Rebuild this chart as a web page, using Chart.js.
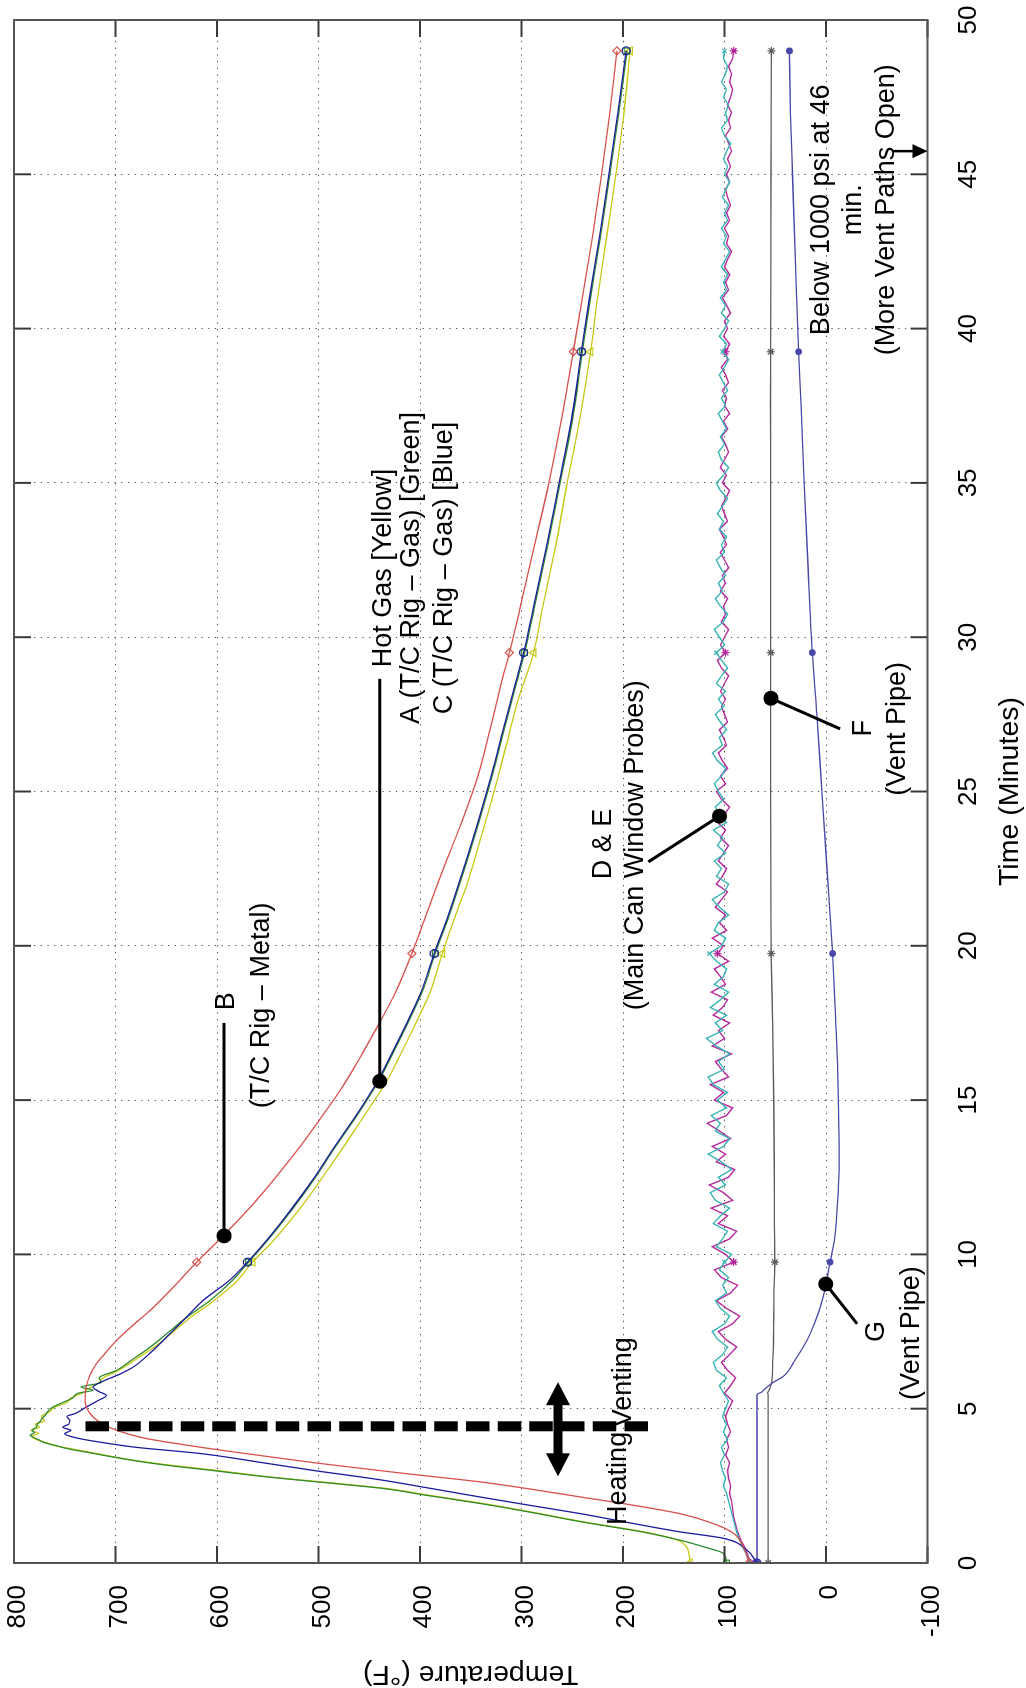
<!DOCTYPE html>
<html><head><meta charset="utf-8">
<script src="https://cdn.jsdelivr.net/npm/chart.js@4.4.1/dist/chart.umd.min.js"></script>
<style>
html,body{margin:0;padding:0;background:#fff;overflow:hidden;width:1026px;height:1688px;}
#wrap{position:absolute;left:0;top:0;width:1688px;height:1026px;transform-origin:0 0;transform:translateY(1688px) rotate(-90deg);background:#fff;}
canvas{display:block;}
</style></head><body>
<div id="wrap"><canvas id="c" width="1688" height="1026"></canvas></div>
<script>
// ---------------- DATA ----------------
const timeTicks = [0,5,10,15,20,25,30,35,40,45,50];
const tempTicks = [800,700,600,500,400,300,200,100,0,-100];

// B (T/C Rig - Metal) [red]
const tB = [0,0.5,0.96,1.28,1.6,1.9,2.14,2.4,2.63,2.9,3.24,3.6,3.87,4.05,4.3,4.55,4.84,5.27,5.7,6.1,6.45,6.8,7.21,7.7,8.18,8.7,9.15,9.75,10.5,11.5,12.5,13.5,14.5,15.5,16.5,17.5,18.5,19.75,21,22.5,24,25.5,27,28.5,29.5,31,33,35,37,39.25,41,43,45,47,49];
const vB = [76,81,91,111,144,195,242,292,341,415,502,584,640,672,699,715,725,730,729,725,719,710,699,683,666,650,637,620,597,568,542,518,496,475,457,440,424,408,394,377,359,343,331,320,312,301,287,273,261,249,240,230,221,213,206];

// A (T/C Rig - Gas) [green]
const tA = [0,0.31,0.5,0.74,1.0,1.34,1.65,1.93,2.2,2.41,2.58,2.79,3.0,3.17,3.3,3.45,3.6,3.71,3.8,3.9,4.0,4.07,4.14,4.22,4.3,4.4,4.5,4.6,4.7,4.8,4.9,5.05,5.2,5.35,5.5,5.6,5.7,5.85,6.0,6.24,6.6,6.99,7.5,7.96,8.5,9.15,9.75,10.5,11.5,12.5,13.5,14.5,15.6,16.5,17.5,18.5,19.75,21,22.3,24,25.5,27,28.5,29.5,31,33,35,37,39.25,41,43,45,47,49];
const vA = [98,101,118,144,180,242,292,341,395,435,486,551,605,650,678,705,730,748,758,770,776,781,784,780,782,778,777,774,772,769,767,762,752,742,737,722,734,714,716,699,683,666,647,630,607,585,569,549,525,503,483,462,441,427,412,398,385,371,358,342,329,317,305,297,287,274,262,250,240,232,222,213,204,196];

// Hot Gas [yellow]
const tY = [0,0.3,0.55,0.74,1.0,1.34,1.65,1.93,2.2,2.41,2.58,2.79,3.0,3.17,3.3,3.45,3.6,3.71,3.8,3.9,4.0,4.1,4.2,4.3,4.4,4.5,4.6,4.75,4.9,5.05,5.2,5.35,5.5,5.65,5.8,6.0,6.24,6.6,6.99,7.5,7.96,8.5,9.15,9.75,10.5,11.5,12.5,13.5,14.5,15.6,16.5,17.5,18.5,19.75,21,22.06,23.5,25,26.5,28,29.5,31,33,35,37,39.25,41,43,45,47,49];
const vY = [134,135,138,146,178,240,290,338,392,432,482,548,600,646,676,703,727,745,760,768,778,782,776,783,775,779,770,773,765,760,748,744,733,727,718,712,697,680,662,643,626,603,580,565,543,518,496,475,455,433,419,404,390,378,365,353,340,327,315,303,288,279,266,255,243,232,225,216,207,199,193];

// C (T/C Rig - Gas) [blue]
const tC = [0,0.42,0.8,1.01,1.3,1.6,1.87,2.14,2.42,2.7,3.0,3.25,3.55,3.75,3.92,4.05,4.19,4.3,4.4,4.5,4.62,4.75,4.84,5.05,5.25,5.43,5.55,5.7,5.91,6.1,6.34,6.8,7.31,7.9,8.5,9.15,9.75,10.5,11.5,12.5,13.5,14.5,15.6,16.5,17.5,18.5,19.75,21,22.3,24,25.5,27,28.5,29.5,31,33,35,37,39.25,41,43,45,47,49];
const vC = [68,78,101,144,193,242,292,341,390,440,505,555,617,680,716,738,750,744,752,746,745,748,740,729,718,709,716,722,711,697,683,666,650,632,614,588,570,550,526,504,484,463,442,428,413,399,386,372,359,343,330,318,306,298,288,275,263,251,241,233,223,214,205,197];

// F (Vent Pipe) [grey]
const tF = [0,5.45,5.52,5.6,5.9,6.5,7.2,8.0,8.8,9.75,11,13,15,17.5,19.75,22,25,27.5,29.5,32,35,37.5,39.25,42,45,47,49];
const vF = [57,57,57.5,56,53.3,52.5,51.7,51.5,51.3,50.5,50.8,51,51.5,52.5,54,54.3,54.5,54.5,54.5,54.5,54.5,54.7,54.5,54.3,54.2,54,53.8];

// G (Vent Pipe) [dark blue]
const tG = [0,5.45,5.55,5.65,5.85,6.05,6.6,7.2,7.8,8.3,9.04,9.75,10.4,11.5,13,14.5,16,18,19.75,22.5,25,27.5,29.5,32.5,35,37.5,39.25,42,45,47,49];
const vG = [68,68,63,60,52,42,30,19,11,5.6,0,-4,-8,-11,-13,-12.5,-11.5,-9,-6.5,-1,4,9,13.5,18,21.5,24.5,27,30,33,35,36];

// D & E (Main Can Window Probes) sample times
const tP = [0,0.25,0.5,0.75,1,1.25,1.5,1.75,2,2.25,2.5,2.75,3,
3.25,3.5,3.75,4,4.25,4.5,4.75,5,
5.25,5.5,5.75,6,6.25,6.5,6.75,7,
7.25,7.5,7.75,8,8.25,8.5,8.75,9,
9.25,9.5,9.75,10,10.25,10.5,10.75,11,
11.25,11.5,11.75,12,12.25,12.5,12.75,13,
13.25,13.5,13.75,14,14.25,14.5,14.75,15,
15.25,15.5,15.75,16,16.25,16.5,16.75,17,
17.25,17.5,17.75,18,18.25,18.5,18.75,19,
19.25,19.5,19.75,20,20.25,20.5,20.75,21,
21.25,21.5,21.75,22,22.25,22.5,22.75,23,
23.25,23.5,23.75,24,24.25,24.5,24.75,25,
25.25,25.5,25.75,26,26.25,26.5,26.75,27,
27.25,27.5,27.75,28,28.25,28.5,28.75,29,
29.25,29.5,29.75,30,30.25,30.5,30.75,31,
31.25,31.5,31.75,32,32.25,32.5,32.75,33,
33.25,33.5,33.75,34,34.25,34.5,34.75,35,
35.25,35.5,35.75,36,36.25,36.5,36.75,37,
37.25,37.5,37.75,38,38.25,38.5,38.75,39,
39.25,39.5,39.75,40,40.25,40.5,40.75,41,
41.25,41.5,41.75,42,42.25,42.5,42.75,43,
43.25,43.5,43.75,44,44.25,44.5,44.75,45,
45.25,45.5,45.75,46,46.25,46.5,46.75,47,
47.25,47.5,47.75,48,48.25,48.5,48.75,49];

// E [magenta]
const vE = [74,77,80,84,87,89,91,92,93,95,94,96,97,
95,99,96,98,94,97,99,96,
92,100,94,89,97,103,95,88,
99,106,92,85,98,108,94,87,
103,110,91,99,112,95,88,106,
97,113,92,101,115,96,90,108,
99,112,94,105,117,98,92,110,
101,114,96,103,109,93,112,100,
106,95,111,102,97,113,99,104,
110,96,107,101,112,98,105,99,
109,103,97,108,102,98,106,101,
96,104,99,107,100,95,103,108,
99,104,97,102,106,98,101,105,
97,100,103,99,104,100,96,103,
107,99,104,100,96,103,99,101,
97,104,99,102,96,100,104,98,
101,105,97,100,103,99,95,102,
98,104,100,96,99,103,97,101,
95,100,98,102,96,99,103,97,
99,95,101,97,100,94,98,102,
96,99,95,100,97,93,98,96,
100,95,98,94,97,99,95,98,
94,97,93,96,99,94,96,93,
97,94,92,95,93,96,92,91];

// D [cyan]
const vD = [75,78,82,85,88,90,92,94,96,98,101,99,102,
104,100,103,97,101,98,102,99,
96,101,105,98,108,111,102,97,
107,112,100,95,104,109,98,102,
96,105,100,93,108,102,97,111,
104,95,109,114,99,106,93,103,
116,101,95,109,104,113,98,107,
97,111,116,100,106,95,108,118,
102,109,98,114,104,96,110,101,
98,108,115,103,99,110,106,96,
105,112,100,96,108,103,110,99,
107,102,111,98,105,109,101,106,
110,103,99,107,112,102,105,98,
104,109,101,106,99,108,103,97,
103,108,100,105,110,101,97,104,
109,102,106,99,104,108,100,103,
98,105,101,107,102,97,104,108,
101,96,103,106,100,104,98,102,
106,99,103,97,101,105,100,96,
102,98,105,100,96,103,99,104,
98,101,97,103,99,95,101,98,
103,97,100,96,102,99,95,100,
97,101,98,94,100,103,97,99,
96,101,98,103,99,97,101,100];

const markerTimes = [0,9.75,19.75,29.5,39.25,49];

// ---------------- CHART ----------------
const FONT = "'Liberation Sans', Arial, Helvetica, sans-serif";
const pts = (xs, ys) => xs.map((t, i) => ({x: t, y: ys[i]}));
const mk = r => c => (c.raw && markerTimes.includes(c.raw.x)) ? r : 0;
function ds(xs, ys, color, style, r, filled, smooth, bw) {
  return {
    data: pts(xs, ys), borderColor: color, backgroundColor: color,
    borderWidth: bw || 1.3, fill: false,
    cubicInterpolationMode: smooth ? 'monotone' : 'default', tension: 0,
    pointStyle: style, pointRadius: mk(r), pointHoverRadius: 0,
    pointBorderColor: color, pointBorderWidth: 1.2,
    pointBackgroundColor: filled ? color : 'rgba(0,0,0,0)'
  };
}

const frameTicks = {
  id: 'frameTicks',
  afterDatasetsDraw(chart) {
    const {ctx, chartArea: a, scales: {x, y}} = chart;
    ctx.save();
    ctx.strokeStyle = '#3a3a3a'; ctx.lineWidth = 2; ctx.setLineDash([]);
    const L = 17;
    timeTicks.forEach(v => {
      const px = x.getPixelForValue(v);
      ctx.beginPath(); ctx.moveTo(px, a.bottom); ctx.lineTo(px, a.bottom - L); ctx.stroke();
      ctx.beginPath(); ctx.moveTo(px, a.top); ctx.lineTo(px, a.top + L); ctx.stroke();
    });
    tempTicks.forEach(v => {
      const py = y.getPixelForValue(v);
      ctx.beginPath(); ctx.moveTo(a.left, py); ctx.lineTo(a.left + L, py); ctx.stroke();
      ctx.beginPath(); ctx.moveTo(a.right, py); ctx.lineTo(a.right - L, py); ctx.stroke();
    });
    ctx.strokeStyle = '#555'; ctx.lineWidth = 2;
    ctx.strokeRect(a.left, a.top, a.right - a.left, a.bottom - a.top);
    ctx.restore();
  }
};

const notes = {
  id: 'notes',
  afterDraw(chart) {
    const {ctx, scales: {x, y}} = chart;
    const X = v => x.getPixelForValue(v), Y = v => y.getPixelForValue(v);
    ctx.save();
    ctx.strokeStyle = '#000'; ctx.fillStyle = '#000';
    ctx.lineWidth = 3; ctx.setLineDash([]);
    const seg = (t1, v1, t2, v2) => { ctx.beginPath(); ctx.moveTo(X(t1), Y(v1)); ctx.lineTo(X(t2), Y(v2)); ctx.stroke(); };
    seg(10.6, 593, 17.5, 593);
    seg(15.61, 439.6, 28.65, 439.6);
    seg(24.2, 105, 22.72, 175);
    seg(28.02, 54.3, 27.03, -14);
    seg(9.04, 0.2, 7.75, -30.6);
    [[10.6, 593], [15.61, 439.6], [24.2, 105], [28.02, 54.3], [9.04, 0.2]].forEach(([t, v]) => {
      ctx.beginPath(); ctx.arc(X(t), Y(v), 7.5, 0, Math.PI * 2); ctx.fill();
    });
    // heating / venting dashed divider
    ctx.lineWidth = 10; ctx.setLineDash([23.5, 8.2]);
    ctx.beginPath(); ctx.moveTo(X(4.43), Y(729.5)); ctx.lineTo(X(4.43), Y(171)); ctx.stroke();
    ctx.setLineDash([]);
    // double arrow
    const ay = Y(264), ax1 = X(2.81), ax2 = X(5.86), hl = 23, hw = 12;
    ctx.lineWidth = 9;
    ctx.beginPath(); ctx.moveTo(ax1 + hl - 2, ay); ctx.lineTo(ax2 - hl + 2, ay); ctx.stroke();
    ctx.beginPath(); ctx.moveTo(ax1, ay); ctx.lineTo(ax1 + hl, ay - hw); ctx.lineTo(ax1 + hl, ay + hw); ctx.closePath(); ctx.fill();
    ctx.beginPath(); ctx.moveTo(ax2, ay); ctx.lineTo(ax2 - hl, ay - hw); ctx.lineTo(ax2 - hl, ay + hw); ctx.closePath(); ctx.fill();
    // 46 min arrow
    const px = X(45.75), tipY = Y(-100);
    ctx.lineWidth = 2.5;
    ctx.beginPath(); ctx.moveTo(px, Y(-66)); ctx.lineTo(px, tipY - 13); ctx.stroke();
    ctx.beginPath(); ctx.moveTo(px, tipY); ctx.lineTo(px - 7, tipY - 15); ctx.lineTo(px + 7, tipY - 15); ctx.closePath(); ctx.fill();
    // texts
    ctx.font = '27px ' + FONT; ctx.textBaseline = 'middle';
    const txt = (s, t, v, al) => { ctx.textAlign = al || 'center'; ctx.fillText(s, X(t), Y(v)); };
    txt('B', 18.2, 591);
    txt('(T/C Rig \u2013 Metal)', 18.07, 556);
    txt('Hot Gas [Yellow]', 32.24, 436);
    txt('A (T/C Rig \u2013 Gas) [Green]', 32.24, 408);
    txt('C (T/C Rig \u2013 Gas) [Blue]', 32.24, 376);
    txt('D & E', 23.3, 219);
    txt('(Main Can Window Probes)', 23.26, 188);
    txt('F', 27.05, -37);
    txt('(Vent Pipe)', 27.03, -70);
    txt('G', 7.5, -50);
    txt('(Vent Pipe)', 7.45, -84.5);
    txt('Heating', 4.25, 204, 'right');
    txt('Venting', 4.4, 199, 'left');
    txt('Below 1000 psi at 46', 43.85, 4);
    txt('min.', 43.85, -27.5);
    txt('(More Vent Paths Open)', 43.85, -59.3);
    ctx.restore();
  }
};

new Chart(document.getElementById('c'), {
  type: 'line',
  data: {
    datasets: [
      ds(tB, vB, '#d8504c', 'rectRot', 4, false, true),
      ds(tC, vC, '#1c1c9c', 'circle', 4, false, true),
      ds(tA, vA, '#2e8b2e', 'rect', 4, false, true),
      ds(tY, vY, '#c8c814', 'triangle', 4.5, false, true),
      ds(tG, vG, '#4848a8', 'circle', 2.8, true, true),
      ds(tF, vF, '#5c5c5c', 'star', 4, false, true),
      ds(tP, vD, '#38b4b4', 'crossRot', 3, false, false, 1.4),
      ds(tP, vE, '#b4289c', 'star', 4, false, false, 1.4)
    ]
  },
  options: {
    responsive: false, animation: false, events: [],
    layout: {padding: {top: 14, right: 20, left: 0, bottom: 0}},
    plugins: {legend: {display: false}, tooltip: {enabled: false}},
    scales: {
      x: {
        type: 'linear', min: 0, max: 50,
        afterFit: s => { s.height = 98.5; s.paddingLeft = 0; s.paddingRight = 0; },
        afterBuildTicks: s => { s.ticks = timeTicks.map(v => ({value: v})); },
        grid: {color: '#444', lineWidth: 1, drawTicks: false},
        border: {display: false, dash: [1.2, 5.5]},
        ticks: {color: '#000', font: {family: FONT, size: 26}, padding: 26, maxRotation: 0, autoSkip: false},
        title: {display: true, text: 'Time (Minutes)', color: '#000', font: {family: FONT, size: 28.5, lineHeight: 1.0}, padding: {top: 0, bottom: 1.5}}
      },
      y: {
        type: 'linear', min: -100, max: 800,
        afterFit: s => { s.width = 125; s.paddingTop = 0; s.paddingBottom = 0; },
        afterBuildTicks: s => { s.ticks = tempTicks.map(v => ({value: v})); },
        grid: {color: '#444', lineWidth: 1, drawTicks: false},
        border: {display: false, dash: [1.2, 5.5]},
        ticks: {color: '#000', font: {family: FONT, size: 26}, padding: 22, labelOffset: 4, autoSkip: false},
        title: {display: true, text: 'Temperature (\u00B0F)', color: '#000', font: {family: FONT, size: 28.5, lineHeight: 1.0}, padding: {top: 0, bottom: 0}}
      }
    }
  },
  plugins: [frameTicks, notes]
});
</script>
</body></html>
